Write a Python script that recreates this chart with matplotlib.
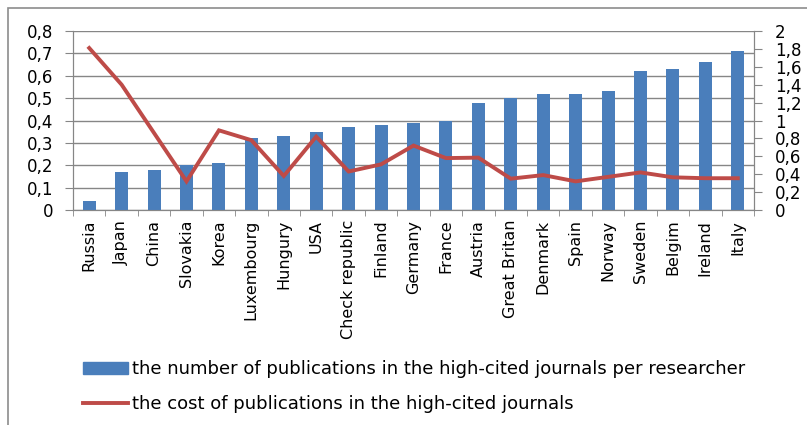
import numpy as np
import matplotlib
matplotlib.use('Agg')
import matplotlib.pyplot as plt
from matplotlib.lines import Line2D
from matplotlib.patches import Patch, Rectangle
from matplotlib.transforms import Bbox

countries = ['Russia', 'Japan', 'China', 'Slovakia', 'Korea', 'Luxembourg', 'Hungury', 'USA',
             'Check republic', 'Finland', 'Germany', 'France', 'Austria', 'Great Britan',
             'Denmark', 'Spain', 'Norway', 'Sweden', 'Belgim', 'Ireland', 'Italy']
publications = [0.04, 0.17, 0.18, 0.20, 0.21, 0.32, 0.33, 0.35, 0.37, 0.38, 0.39,
                 0.40, 0.48, 0.50, 0.52, 0.52, 0.53, 0.62, 0.63, 0.66, 0.71]
cost = [1.81, 1.40, 0.86, 0.32, 0.89, 0.78, 0.38, 0.82, 0.43, 0.51, 0.72,
        0.58, 0.585, 0.35, 0.39, 0.32, 0.37, 0.42, 0.365, 0.355, 0.355]
left_ticks = [0, 0.1, 0.2, 0.3, 0.4, 0.5, 0.6, 0.7, 0.8]
right_ticks = [0, 0.2, 0.4, 0.6, 0.8, 1.0, 1.2, 1.4, 1.6, 1.8, 2.0]

bar_color = '#4A7EBB'
line_color = '#BE4B48'
grid_color = '#868686'

def comma(v):
    s = ('%.1f' % v).rstrip('0').rstrip('.')
    return s.replace('.', ',')

W, H = 807, 425
fig = plt.figure(figsize=(W / 100, H / 100), dpi=100)

# outer chart frame (cut off at right/bottom like the screenshot)
fig.patches.append(Rectangle((8 / W, -0.1), 1.2, (H - 8) / H + 0.1, transform=fig.transFigure,
                             fill=False, edgecolor='#8c8c8c', linewidth=1.2))

ax = fig.add_axes([73 / W, 215 / H, 681 / W, 179 / H])
x = np.arange(len(countries))
ax.bar(x, publications, width=0.4, color=bar_color, zorder=3)
ax.set_xlim(-0.5, len(countries) - 0.5)
ax.set_ylim(0, 0.8)
ax.set_yticks(left_ticks)
ax.set_yticklabels([comma(v) for v in left_ticks])
ax.set_xticks(x)
ax.set_xticklabels(countries, rotation=90)
ax.set_xticks(np.arange(-0.5, len(countries)), minor=True)
ax.tick_params(axis='x', which='major', length=0, pad=7, labelsize=11.5)
ax.tick_params(axis='x', which='minor', length=4, color=grid_color, direction='out')
ax.tick_params(axis='y', length=5.8, color=grid_color, labelsize=12, pad=8.5)
ax.yaxis.grid(True, color=grid_color, linewidth=1, zorder=0)
ax.set_axisbelow(True)
ax.spines['top'].set_visible(False)
for s in ['left', 'right', 'bottom']:
    ax.spines[s].set_color(grid_color)

# category labels are cut off below the label area, as in the original
label_area = Bbox([[0, (H - 343) / H], [1, 1]]).transformed(fig.transFigure)
for lbl in ax.get_xticklabels():
    lbl.set_clip_box(label_area)
    lbl.set_clip_on(True)

ax2 = ax.twinx()
ax2.plot(x, cost, color=line_color, linewidth=2.8, solid_joinstyle='miter')
ax2.set_ylim(0, 2)
ax2.set_yticks(right_ticks)
ax2.set_yticklabels([comma(v) for v in right_ticks])
ax2.tick_params(axis='y', length=5.8, color=grid_color, labelsize=12, pad=9.4)
ax2.spines['top'].set_visible(False)
for s in ['left', 'right', 'bottom']:
    ax2.spines[s].set_color(grid_color)

handles = [Patch(color=bar_color), Line2D([], [], color=line_color, linewidth=2.8)]
labels = ['the number of publications in the high-cited journals per researcher',
          'the cost of publications in the high-cited journals']
fig.legend(handles, labels, loc='upper left', bbox_to_anchor=(67 / W, 1 - 344 / H),
           frameon=False, handlelength=2.5, handleheight=0.6, handletextpad=0.2,
           labelspacing=0.95, prop={'size': 13})

fig.savefig('out.png', dpi=100)
